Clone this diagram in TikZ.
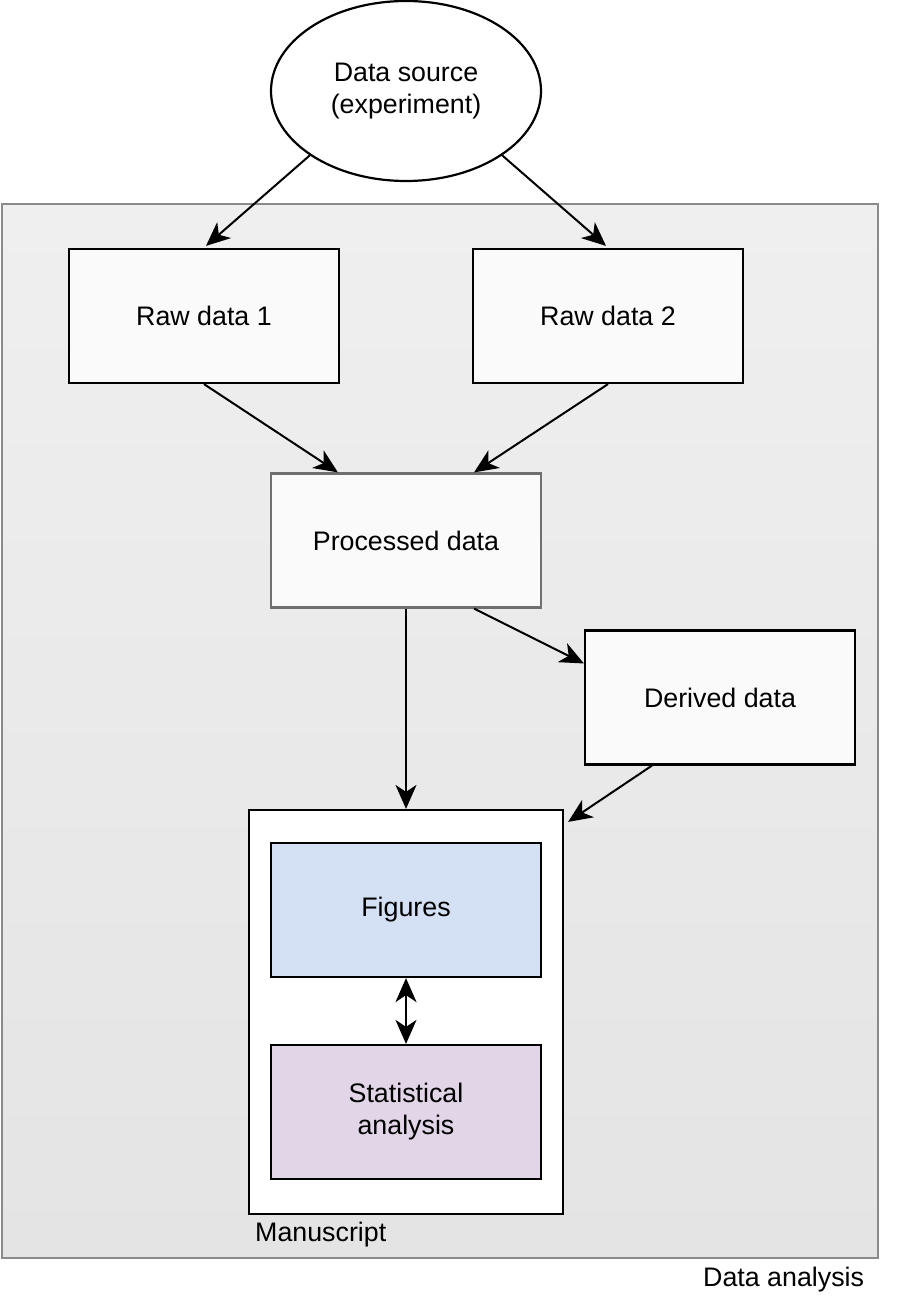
\documentclass[tikz,border=0pt]{standalone}
\usepackage{fontspec}
\setmainfont{Liberation Sans}
\usetikzlibrary{shapes.geometric,arrows.meta,calc}
\definecolor{outerA}{HTML}{EFEFEF}
\definecolor{outerB}{HTML}{E4E4E4}
\definecolor{outerline}{HTML}{8A8A8A}
\definecolor{boxfill}{HTML}{FAFAFA}
\definecolor{procline}{HTML}{707070}
\definecolor{figfill}{HTML}{D4E1F5}
\definecolor{statfill}{HTML}{E1D5E7}
\tikzset{
  txt/.style={font=\fontsize{26.8}{32}\selectfont, align=center},
  databox/.style={txt, draw=black, line width=2.2pt, fill=boxfill, rectangle,
    minimum width=270pt, minimum height=134pt, inner sep=0pt},
  tiphead/.tip={Stealth[length=24pt 0,width=21pt 0,inset=7pt 0]},
  conn/.style={line width=2pt, draw=black, -tiphead},
  biconn/.style={line width=2pt, draw=black, tiphead-tiphead},
  lbl/.style={font=\fontsize{26.8}{32}\selectfont, anchor=west, inner sep=0pt}
}
\begin{document}
\begin{tikzpicture}[x=1pt,y=-1pt]
\useasboundingbox (0,0) rectangle (904,1308);
% outer data analysis region
\node (outer) [rectangle, draw=outerline, line width=2.2pt, top color=outerA, bottom color=outerB,
  minimum width=876pt, minimum height=1054pt, inner sep=0pt] at (440,731) {};
\node (dalbl) [lbl] at (703,1280) {Data analysis};
% source
\node (src) [txt, ellipse, draw=black, line width=2.2pt, fill=white,
  minimum width=270pt, minimum height=180pt, inner sep=0pt] at (406,91) {Data source\\(experiment)};
% raw data
\node (raw1) [databox] at (204,316) {Raw data 1};
\node (raw2) [databox] at (608,316) {Raw data 2};
% processed
\node (proc) [databox, draw=procline] at (406,540.5) {Processed data};
% derived
\node (der) [databox] at (720,697.5) {Derived data};
% manuscript
\node (ms) [rectangle, draw=black, line width=2.2pt, fill=white,
  minimum width=314pt, minimum height=404pt, inner sep=0pt] at (406,1012) {};
\node (mslbl) [lbl] at (255,1235) {Manuscript};
\node (fig) [databox, fill=figfill] at (406,910) {Figures};
\node (stat) [databox, fill=statfill] at (406,1112) {Statistical\\analysis};
% connectors
\draw[conn] (src.south west) -- ($(raw1.north)+(2,-2)$);
\draw[conn] (src.south east) -- ($(raw2.north)+(-2,-2)$);
\draw[conn] (raw1.south) -- ($(proc.north west)!0.25!(proc.north east)$);
\draw[conn] (raw2.south) -- ($(proc.north west)!0.75!(proc.north east)$);
\draw[conn] (proc.south) -- (ms.north);
\draw[conn] ($(proc.south west)!0.75!(proc.south east)$) -- ($(der.north west)!0.25!(der.south west)$);
\draw[conn] ($(der.south west)!0.25!(der.south east)$) -- ($(ms.north east)+(4,13)$);
\draw[biconn] (fig.south) -- (stat.north);
\end{tikzpicture}
\end{document}
